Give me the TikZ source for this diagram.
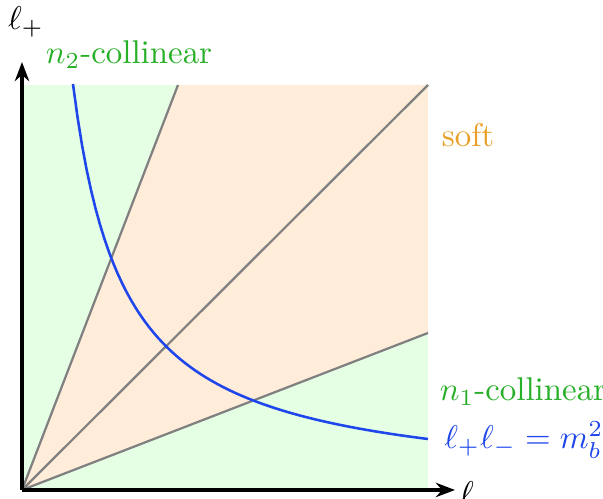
\documentclass[tikz,border=0pt]{standalone}
\usepackage{amsmath}
\usepackage{tikz}
\usetikzlibrary{arrows.meta}
\definecolor{collgreen}{RGB}{40,175,40}
\definecolor{softorange}{RGB}{232,160,40}
\definecolor{curveblue}{RGB}{30,70,235}

\begin{document}
\begin{tikzpicture}[>=Stealth, x=0.011cm, y=0.011cm, every node/.style={scale=1.03}]
\useasboundingbox (-22,-9) rectangle (581,490);

% Regions
\coordinate (O) at (0,0);
\coordinate (TL) at (0,405);
\coordinate (TR) at (406,405);
\coordinate (BR) at (406,0);
\coordinate (A) at (156,405);
\coordinate (B) at (406,157);
\fill[green!10] (O) rectangle (TR);
\fill[orange!15] (O) -- (A) -- (TR) -- (B) -- cycle;

% Rectes
\draw[gray, line width=0.7pt] (O) -- (A);
\draw[gray, line width=0.7pt] (O) -- (TR);
\draw[gray, line width=0.7pt] (O) -- (B);

% Hiperbola
\draw[curveblue, thick, domain=51:406, samples=80]
    plot (\x, {207/(\x/100)});

% Eixos
\draw[-{Stealth[length=6pt,width=4.5pt]}, line width=1.1pt] (O) -- (433,0) node (xl) at (456,-7) {$\ell_-$};
\draw[-{Stealth[length=6pt,width=4.5pt]}, line width=1.1pt] (O) -- (0,428) node (yl) at (4,468) {$\ell_+$};

% Etiquetes
\node[collgreen] (n2) at (107,435) {$n_2$-collinear};
\node[softorange] (soft) at (446,355) {soft};
\node[collgreen] (n1) at (501,98) {$n_1$-collinear};
\node[curveblue] (mb) at (502,50) {$\ell_+\ell_- = m_b^2$};

\end{tikzpicture}
\end{document}
